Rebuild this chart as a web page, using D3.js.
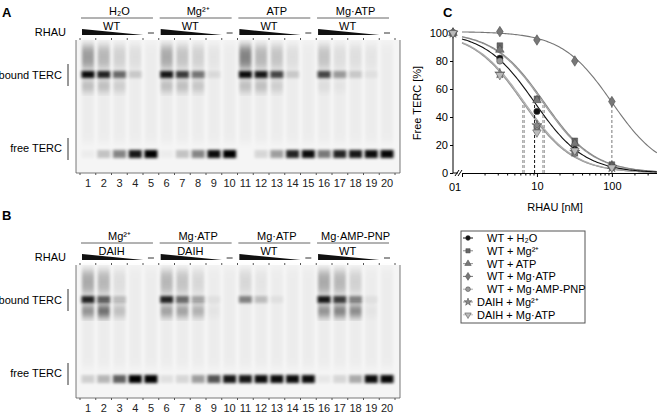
<!DOCTYPE html>
<html><head><meta charset="utf-8">
<script src="https://cdn.jsdelivr.net/npm/d3@7"></script>
<style>body{margin:0;background:#fff}svg{font-family:"Liberation Sans",Arial,sans-serif}</style>
</head><body><svg id="c" width="657" height="413"></svg>
<script>
'use strict';

// gel lane intensities (0..1), lanes 1..20
let lanes = d3.range(1, 21);
let gelA = {
  smear: [0.6,0.4,0.2,0.1,0, 0.5,0.3,0.2,0.05,0, 0.8,0.4,0.3,0.1,0, 0.3,0.1,0.1,0.05,0],
  bound: [0.95,0.85,0.55,0.15,0, 0.9,0.75,0.5,0.08,0, 0.95,0.9,0.7,0.15,0, 0.7,0.35,0.15,0.05,0],
  lower: [0.3,0.3,0.2,0,0, 0.3,0.3,0.25,0,0, 0.3,0.3,0.2,0,0, 0.1,0.05,0,0,0],
  free:  [0.03,0.2,0.45,0.9,1, 0.03,0.2,0.45,0.95,1, 0,0.12,0.35,0.85,0.95, 0.5,0.85,0.9,0.95,0.97]
};
let gelB = {
  smear: [0.5,0.4,0.1,0,0, 0.4,0.3,0.15,0,0, 0.15,0.05,0,0,0, 0.5,0.4,0.2,0,0],
  bound: [0.85,0.6,0.2,0,0, 0.85,0.55,0.3,0.05,0, 0.45,0.2,0.05,0,0, 0.9,0.75,0.45,0.05,0],
  lower: [0.6,0.85,0.3,0,0, 0.5,0.5,0.4,0.05,0, 0,0,0,0,0, 0.6,0.7,0.65,0.05,0],
  free:  [0.15,0.25,0.6,1,1, 0.08,0.12,0.35,0.65,0.9, 0.9,0.95,0.95,0.95,0.95, 0.05,0.12,0.3,0.95,0.97]
};
let groupsA = [['H\u2082O','WT'], ['Mg\u00b2\u207a','WT'], ['ATP','WT'], ['Mg\u00b7ATP','WT']];
let groupsB = [['Mg\u00b2\u207a','DAIH'], ['Mg\u00b7ATP','DAIH'], ['Mg\u00b7ATP','WT'], ['Mg\u00b7AMP-PNP','WT']];

// panel C
let conc = [0.1, 3.2, 10, 32, 100];
let series = [
  { name: 'WT + H\u2082O', sym: 'circle', fill: '#111', line: '#111', ic50: 9.3, values: [100, 82, 44, 17, 5] },
  { name: 'WT + Mg\u00b2\u207a', sym: 'square', fill: '#666', line: '#888', ic50: 12.5, values: [100, 91, 53, 23, 6] },
  { name: 'WT + ATP', sym: 'triangle', fill: '#777', line: '#999', ic50: 12, values: [100, 88, 52, 21, 5] },
  { name: 'WT + Mg\u00b7ATP', sym: 'diamond', fill: '#777', line: '#777', ic50: 100, values: [100, 101, 95, 80, 51] },
  { name: 'WT + Mg\u00b7AMP-PNP', sym: 'circle', fill: '#999', line: '#aaa', ic50: 6.8, values: [100, 80, 33, 14, 4] },
  { name: 'DAIH + Mg\u00b2\u207a', sym: 'star', fill: '#888', line: '#999', ic50: 6.5, values: [100, 71, 34, 15, 4] },
  { name: 'DAIH + Mg\u00b7ATP', sym: 'triangleDown', fill: '#bbb', line: '#bbb', ic50: 6.5, values: [100, 70, 29, 16, 4] }
];
let yTicks = [0, 20, 40, 60, 80, 100];
let xTicks = [10, 100];

let svg = d3.select('#c');
let defs = svg.append('defs');
defs.append('filter').attr('id', 'blur').attr('x', '-50%').attr('y', '-50%').attr('width', '200%').attr('height', '200%')
  .append('feGaussianBlur').attr('stdDeviation', '1.6 1.4');
defs.append('filter').attr('id', 'blur2').attr('x', '-50%').attr('y', '-50%').attr('width', '200%').attr('height', '200%')
  .append('feGaussianBlur').attr('stdDeviation', '1.8 4');

let lx = d3.scalePoint().domain(lanes).range([88, 387]);

function gel(top, data, groups, letterY) {
  let g = svg.append('g');
  g.append('text').attr('x', 2).attr('y', letterY).attr('font-weight', 'bold').attr('font-size', 13).text(letterY < 100 ? 'A' : 'B');
  g.append('rect').attr('x', 76).attr('y', top).attr('width', 324).attr('height', 133).attr('fill', '#f5f5f5');
  let bands = g.append('g');
  lanes.forEach((l, i) => {
    let x = lx(l);
    bands.append('rect').attr('x', x - 6).attr('y', top + 3).attr('width', 12).attr('height', 100)
      .attr('fill', '#000').attr('opacity', 0.03).attr('filter', 'url(#blur2)');
    bands.append('rect').attr('x', x - 6).attr('y', top + 6).attr('width', 12).attr('height', 22)
      .attr('fill', '#000').attr('opacity', data.smear[i] * 0.55).attr('filter', 'url(#blur2)');
    bands.append('rect').attr('x', x - 6.5).attr('y', top + 31).attr('width', 13).attr('height', 7)
      .attr('fill', '#000').attr('opacity', data.bound[i]).attr('filter', 'url(#blur)');
    bands.append('rect').attr('x', x - 6).attr('y', top + 41).attr('width', 12).attr('height', 10)
      .attr('fill', '#000').attr('opacity', data.lower[i] * 0.8).attr('filter', 'url(#blur2)');
    bands.append('rect').attr('x', x - 6.5).attr('y', top + 110).attr('width', 13).attr('height', 8)
      .attr('fill', '#000').attr('opacity', data.free[i]).attr('filter', 'url(#blur)');
  });
  g.append('path').attr('d', `M76,${top}V${top + 133}H400V${top}`).attr('fill', 'none').attr('stroke', '#555').attr('stroke-width', 0.8);
  lanes.concat([21]).forEach(l => {
    let x = 80 + (l - 1) * 15.75;
    g.append('line').attr('x1', x).attr('x2', x).attr('y1', top).attr('y2', top - 2).attr('stroke', '#555');
    g.append('line').attr('x1', x).attr('x2', x).attr('y1', top + 133).attr('y2', top + 135).attr('stroke', '#555');
  });
  g.selectAll('.ln').data(lanes).join('text').attr('x', d => lx(d)).attr('y', top + 147)
    .attr('text-anchor', 'middle').attr('font-size', 11).attr('fill', '#222').text(d => d);
  g.append('text').attr('x', 66).attr('y', top - 4).attr('text-anchor', 'end').attr('font-size', 11).text('RHAU');
  g.append('text').attr('x', 62).attr('y', top + 39).attr('text-anchor', 'end').attr('font-size', 11).text('bound TERC');
  g.append('line').attr('x1', 68).attr('x2', 68).attr('y1', top + 24).attr('y2', top + 46).attr('stroke', '#333');
  g.append('text').attr('x', 62).attr('y', top + 112).attr('text-anchor', 'end').attr('font-size', 11).text('free TERC');
  g.append('line').attr('x1', 68).attr('x2', 68).attr('y1', top + 98).attr('y2', top + 120).attr('stroke', '#333');
  groups.forEach((gr, k) => {
    let x0 = lx(k * 5 + 1) - 7, x1 = lx(k * 5 + 5) + 2, xm = (lx(k * 5 + 1) + lx(k * 5 + 5)) / 2;
    g.append('text').attr('x', xm).attr('y', top - 25).attr('text-anchor', 'middle').attr('font-size', 11).text(gr[0]);
    g.append('line').attr('x1', x0).attr('x2', x1).attr('y1', top - 22).attr('y2', top - 22).attr('stroke', '#666');
    g.append('text').attr('x', (lx(k * 5 + 1) + lx(k * 5 + 4)) / 2).attr('y', top - 10).attr('text-anchor', 'middle').attr('font-size', 11).text(gr[1]);
    let tx0 = lx(k * 5 + 1) - 6, tx1 = lx(k * 5 + 4) + 8;
    g.append('path').attr('d', `M${tx0},${top - 11}L${tx1},${top - 5}H${tx0}Z`).attr('fill', '#111');
    g.append('line').attr('x1', lx(k * 5 + 5) - 3).attr('x2', lx(k * 5 + 5) + 3).attr('y1', top - 7).attr('y2', top - 7).attr('stroke', '#333');
  });
}
gel(40, gelA, groupsA, 17);
gel(265, gelB, groupsB, 220);

// panel C
let gc = svg.append('g');
gc.append('text').attr('x', 443).attr('y', 17).attr('font-weight', 'bold').attr('font-size', 13).text('C');
let x = d3.scaleLog().domain([1, 400]).range([462, 657]);
let y = d3.scaleLinear().domain([0, 100]).range([173, 33]);
let px = c => c < 1 ? 453 : x(c);
let hill = (c, ic) => 101 / (1 + Math.pow(c / ic, 1.3));

gc.append('g').attr('transform', 'translate(453,0)')
  .call(d3.axisLeft(y).tickValues(yTicks).tickSize(3).tickPadding(2))
  .call(a => a.select('.domain').attr('d', 'M0,173V30'))
  .call(a => a.selectAll('text').attr('font-size', 11).attr('font-family', 'inherit'));
let xa = gc.append('g').attr('transform', 'translate(0,173)')
  .call(d3.axisBottom(x).ticks(3).tickSize(4).tickFormat(d => xTicks.includes(d) ? d : ''))
  .call(a => a.selectAll('text').attr('font-size', 11).attr('font-family', 'inherit').attr('dy', '0.9em'));
xa.selectAll('.tick line').attr('y2', d => xTicks.includes(d) ? 4 : 2.5);
gc.append('line').attr('x1', 453).attr('x2', 458).attr('y1', 173).attr('y2', 173).attr('stroke', '#000');
gc.append('path').attr('d', 'M455,176L459,170M458,176L462,170').attr('stroke', '#000').attr('fill', 'none');
gc.append('text').attr('x', 455).attr('y', 191).attr('text-anchor', 'middle').attr('font-size', 11).text('01');
gc.append('text').attr('x', 555).attr('y', 211).attr('text-anchor', 'middle').attr('font-size', 11).text('RHAU [nM]');
gc.append('text').attr('transform', 'translate(421,103) rotate(-90)').attr('text-anchor', 'middle').attr('font-size', 11).text('Free TERC [%]');

let cs = d3.range(0, 2.61, 0.02).map(e => Math.pow(10, e));
series.slice().reverse().forEach(s => {
  gc.append('path').attr('fill', 'none').attr('stroke', s.line).attr('stroke-width', 1.1)
    .attr('d', d3.line().x(c => x(c)).y(c => y(hill(c, s.ic50)))(cs));
  gc.append('line').attr('x1', x(s.ic50)).attr('x2', x(s.ic50)).attr('y1', y(0)).attr('y2', y(hill(s.ic50, s.ic50)))
    .attr('stroke', s.line).attr('stroke-dasharray', '3,2');
});

let symType = { circle: d3.symbolCircle, square: d3.symbolSquare, triangle: d3.symbolTriangle, diamond: d3.symbolDiamond, star: d3.symbolStar, triangleDown: d3.symbolTriangle };
function sym(g, s, cx, cy, size) {
  g.append('path').attr('d', d3.symbol(symType[s.sym], size)())
    .attr('transform', `translate(${cx},${cy})` + (s.sym === 'triangleDown' ? ' rotate(180)' : '') + (s.sym === 'diamond' ? ' scale(1.1,1)' : ''))
    .attr('fill', s.fill).attr('stroke', '#444').attr('stroke-width', 0.5);
}
series.forEach(s => s.values.forEach((v, i) => sym(gc, s, px(conc[i]), y(v), 32)));

// legend
let lg = svg.append('g');
lg.append('rect').attr('x', 461).attr('y', 231).attr('width', 124).attr('height', 92).attr('fill', 'none').attr('stroke', '#555');
series.forEach((s, i) => {
  let yy = 238 + i * 12.8;
  lg.append('line').attr('x1', 463).attr('x2', 473).attr('y1', yy).attr('y2', yy).attr('stroke', s.line);
  sym(lg, s, 468, yy, 18);
  lg.append('text').attr('x', s.name.startsWith('WT') ? 487 : 477).attr('y', yy + 4).attr('font-size', 11).text(s.name);
});
</script></body></html>
